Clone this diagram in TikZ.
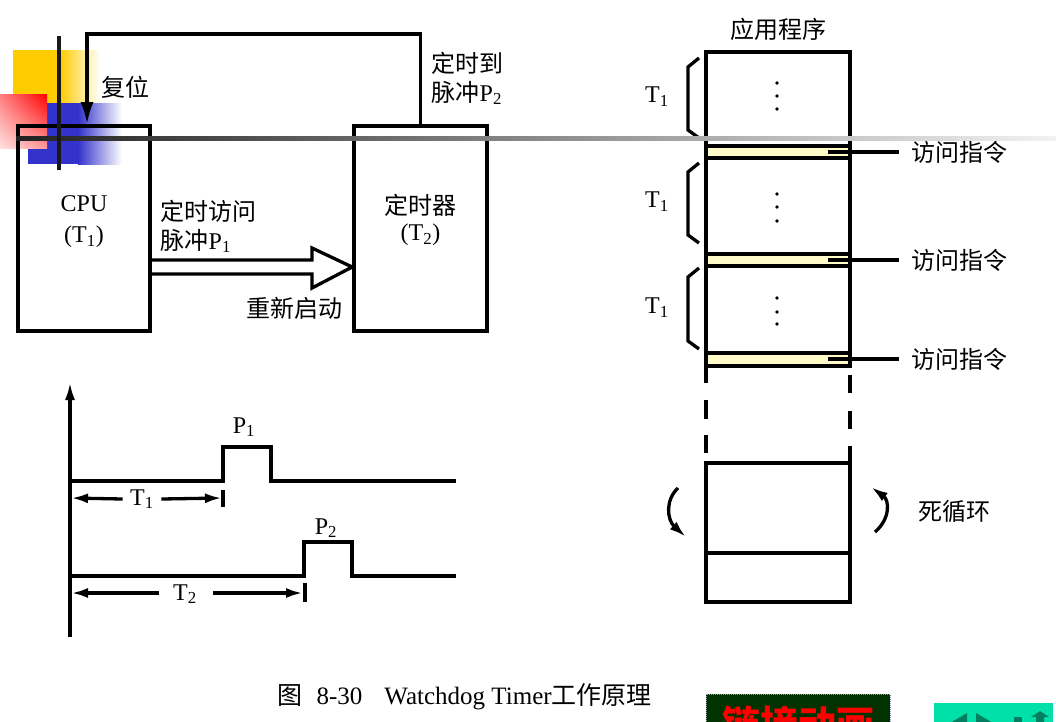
\documentclass[tikz,border=0pt]{standalone}
\usepackage{fontspec}
\setmainfont{Liberation Serif}
\newfontfamily\cjk{Noto Sans CJK SC}
\usetikzlibrary{arrows.meta,calc,shadings}
\definecolor{logoyellow}{RGB}{255,204,0}
\definecolor{logoblue}{RGB}{51,51,204}
\definecolor{bandyellow}{RGB}{255,250,200}
\definecolor{btngreen}{RGB}{0,51,0}
\definecolor{btnborder}{RGB}{150,150,190}
\definecolor{navteal}{RGB}{0,224,168}
\definecolor{navdark}{RGB}{0,128,96}
\begin{document}
\begin{tikzpicture}[x=1pt,y=-1pt,line width=3.3pt,
  every node/.style={font=\fontsize{24}{28}\selectfont, inner sep=0pt},
  box/.style={draw, line width=3.6pt, minimum width=132pt, minimum height=205pt},
  band/.style={draw, fill=bandyellow},
  bigtip/.style={-{Latex[length=22pt,width=13pt]}},
  midtip/.style={-{Latex[length=17pt,width=10pt]}},
  dimtip/.style={-{Latex[length=17pt,width=10pt]}},
  capfont/.style={font=\fontsize{25}{28}\selectfont}]
\useasboundingbox (0,0) rectangle (1056,721);
\begin{scope}
\clip (0,0) rectangle (1056,721);
% ---- decorative logo (behind) ----
\fill[logoyellow] (13,50) rectangle (60,103);
\shade[left color=logoyellow, right color=white] (60,50) rectangle (100,103);
\fill[logoblue] (28,103) rectangle (78,164);
\shade[left color=logoblue, right color=white] (78,103) rectangle (122,164);
\shade[upper left=red!50!white, upper right=red, lower left=red!12!white, lower right=red!40!white] (0,94) rectangle (47,148);

% ---- CPU and timer ----
\node[box] (cpu) at (84,228.5) {};
\node[box, minimum width=133pt] (timer) at (420.5,228.5) {};
\node (cputxt) at (84,204) {CPU};
\node (cput1) at (84,237) {(T\textsubscript{1})};
\node (timertxt) at (420.5,205) {\cjk 定时器};
\node (timert2) at (420.5,235) {(T\textsubscript{2})};

\coordinate (fbtop) at (420.5,34);
\draw[bigtip] (timer.north) -- (fbtop) -| ([xshift=3pt]cpu.north);
\node (fuwei) at (125,87) {\cjk 复位};
\node[anchor=west] (dsd) at (430,63) {\cjk 定时到};
\node[anchor=west] (mcp2) at (430,93) {{\cjk 脉冲}P\textsubscript{2}};

\node[anchor=west] (dsfw) at (159,211) {\cjk 定时访问};
\node[anchor=west] (mcp1) at (159,241) {{\cjk 脉冲}P\textsubscript{1}};
\draw (cpu.east |- 0,260) -- (312,260) -- (312,248) -- (timer.west |- 0,267)
      -- (312,288) -- (312,274) -- (cpu.east |- 0,274);
\node (cxqd) at (294,308) {\cjk 重新启动};

% ---- application program column ----
\node (app) at (778,29) {\cjk 应用程序};
\draw (706,383) -- (706,52) -- (850,52) -- (850,366);
\draw[band] (706,146) rectangle (850,158);
\draw[band] (706,254) rectangle (850,266);
\draw[band] (706,353) rectangle (850,366);
\foreach \y/\n in {152/acc1,260/acc2,359/acc3}{
  \node[anchor=west] (\n) at (910,\y) {\cjk 访问指令};
  \draw ([xshift=-11pt]\n.west) -- (828,\y);
}
\foreach \y in {83,96,109,194,207,221,298,312,324}{
  \fill (777,\y) circle (1.8pt);
}
\foreach \a/\b/\n in {58/138/ta,163/243/tb,268/349/tc}{
  \draw (699,\a) -- (688,\a+9) -- (688,\b-8) -- (699,\b);
  \node (\n) at (657,{(\a+\b)/2-1}) {T\textsubscript{1}};
}
% dashed continuation
\draw (706,400) -- (706,419);
\draw (706,435) -- (706,453);
\draw (850,375) -- (850,393);
\draw (850,411) -- (850,429);
\draw (850,446) -- (850,463);
% loop box
\draw (706,463) rectangle (850,602);
\draw (706,553) -- (850,553);
\draw[midtip] (678,488) .. controls (665,500) and (667,520) .. (686,537);
\draw[midtip] (875,532) .. controls (891,518) and (889,500) .. (871,487);
\node (loop) at (954,511) {\cjk 死循环};

% ---- timing diagram ----
\draw[-{Latex[length=18pt,width=10pt]}] (70,637) -- (70,382);
\draw (70,481) -- (223,481) -- (223,447) -- (271,447) -- (271,481) -- (456,481);
\node (p1) at (244,427) {P\textsubscript{1}};
\node (t1) at (142,499) {T\textsubscript{1}};
\draw[dimtip] (t1.west) ++(-6,0) -- (71,498);
\draw[dimtip] (t1.east) ++(6,0) -- (222,498);
\draw (223,490) -- (223,507);
\draw (70,576) -- (304,576) -- (304,542) -- (352,542) -- (352,576) -- (456,576);
\node (p2) at (326,528) {P\textsubscript{2}};
\node (t2) at (185,594) {T\textsubscript{2}};
\draw[dimtip] (159,593) -- (71,593);
\draw[dimtip] (213,593) -- (303,593);
\draw (305,583) -- (305,602);

% ---- caption ----
\node[anchor=west, capfont] (cap) at (276,697) {{\cjk 图}\hspace{14pt}8-30\hspace{22pt}Watchdog Timer{\cjk 工作原理}};

% ---- bottom right buttons ----
\draw[fill=btngreen, draw=btnborder, densely dotted, line width=1pt] (706,694) rectangle (890,735);
\node[text=red, font=\fontsize{38}{40}\selectfont\cjk\bfseries] (link) at (798,724) {链接动画};
\fill[navteal] (934,703) rectangle (1053,735);
\fill[navdark] (967,713) -- (950,723) -- (967,733) -- cycle;
\fill[navdark] (976,713) -- (993,723) -- (976,733) -- cycle;
\fill[navdark] (1014,717) rectangle (1022,727);
\fill[navdark] (1040,711) -- (1049,717) -- (1044,717) -- (1044,727) -- (1036,727) -- (1036,717) -- (1031,717) -- cycle;

% ---- decorative logo lines (on top) ----
\shade[left color=black!87, middle color=black!36, right color=black!5] (16,136) rectangle (1056,140);
\draw[line width=4pt, black!90] (59,36) -- (59,170);
\end{scope}
\end{tikzpicture}
\end{document}
